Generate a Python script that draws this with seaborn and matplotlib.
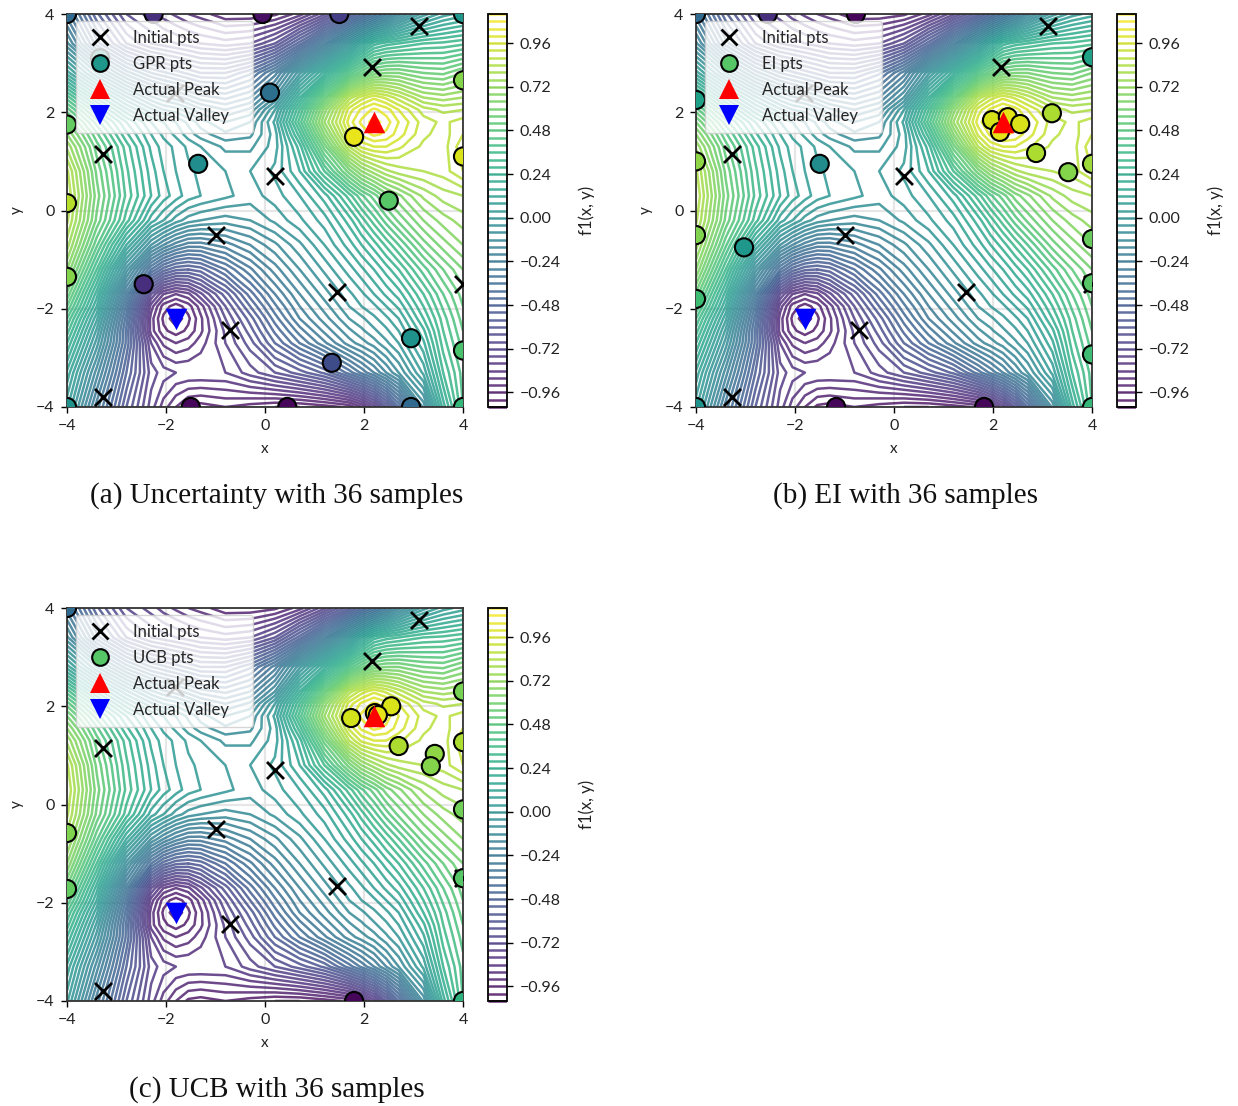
import numpy as np
import seaborn as sns
import matplotlib.pyplot as plt
from matplotlib.colors import Normalize
from matplotlib.lines import Line2D

sns.set_style("whitegrid")
plt.rcParams['font.family'] = ['Lato', 'DejaVu Sans']
plt.rcParams['axes.unicode_minus'] = True

# surface values
grid_x = [-4, -3.4, -2.8, -2.3, -2.05, -1.8, -1.55, -1.3, -0.8, -0.3, 0.2, 0.7, 1.2, 1.7, 1.95, 2.2, 2.45, 2.7, 3.2, 3.6, 4]
grid_y = [-4, -3.3, -2.7, -2.45, -2.2, -1.95, -1.7, -1.2, -0.7, -0.2, 0.3, 0.8, 1.3, 1.55, 1.8, 2.05, 2.3, 2.8, 3.4, 4]
f1_table = [
    [.05, -.30, -.60, -.78, -.86, -.92, -.97, -.98, -.96, -.98, -1.00, -1.00, -.98, -.95, -.88, -.78, -.64, -.48, -.15, .18, .40],
    [.15, -.18, -.52, -.74, -.78, -.80, -.80, -.80, -.80, -.74, -.68, -.62, -.55, -.42, -.35, -.28, -.20, -.12, .05, .28, .42],
    [.28, -.06, -.45, -.80, -.89, -.92, -.90, -.86, -.76, -.66, -.52, -.40, -.29, -.18, -.14, -.10, -.05, .00, .15, .34, .46],
    [.34, -.01, -.45, -.86, -.95, -.98, -.95, -.89, -.75, -.62, -.47, -.34, -.23, -.13, -.09, -.05, -.01, .04, .19, .36, .48],
    [.40, .05, -.42, -.86, -.97, -1.03, -.97, -.89, -.72, -.58, -.42, -.28, -.18, -.08, -.05, -.01, .03, .08, .24, .38, .50],
    [.48, .12, -.37, -.82, -.94, -.98, -.94, -.86, -.68, -.52, -.37, -.24, -.14, -.04, .00, .03, .08, .13, .28, .41, .52],
    [.55, .18, -.30, -.72, -.84, -.88, -.85, -.77, -.62, -.46, -.32, -.20, -.10, -.01, .03, .08, .13, .18, .32, .44, .54],
    [.68, .32, -.10, -.40, -.50, -.55, -.56, -.54, -.44, -.33, -.22, -.12, -.03, .06, .11, .16, .22, .28, .42, .52, .60],
    [.78, .45, .12, -.12, -.20, -.26, -.30, -.30, -.26, -.20, -.13, -.05, .04, .14, .20, .26, .33, .40, .54, .62, .68],
    [.85, .55, .30, .10, .04, -.02, -.06, -.08, -.10, -.08, -.03, .03, .10, .22, .30, .38, .46, .53, .64, .70, .74],
    [.88, .58, .35, .20, .14, .10, .06, .04, .01, -.02, .02, .08, .18, .34, .43, .50, .58, .63, .73, .78, .80],
    [.85, .55, .33, .18, .12, .08, .05, .03, .00, .00, .05, .16, .36, .58, .68, .74, .79, .82, .84, .86, .92],
    [.75, .50, .30, .15, .10, .07, .03, .00, -.05, -.05, .02, .22, .54, .84, .93, .96, .96, .93, .87, .86, .95],
    [.68, .45, .25, .12, .07, .03, -.02, -.06, -.11, -.09, .02, .30, .64, .93, 1.01, 1.05, 1.03, .98, .89, .86, .92],
    [.60, .38, .20, .08, .04, .00, -.05, -.10, -.16, -.12, .05, .38, .72, .98, 1.05, 1.10, 1.06, 1.00, .90, .87, .90],
    [.50, .28, .09, -.03, -.08, -.10, -.14, -.19, -.24, -.19, .00, .32, .66, .94, 1.01, 1.05, 1.02, .96, .86, .83, .84],
    [.38, .15, -.03, -.15, -.19, -.22, -.26, -.30, -.33, -.28, -.12, .20, .52, .82, .90, .95, .91, .86, .76, .74, .76],
    [.10, -.12, -.30, -.40, -.43, -.46, -.49, -.52, -.52, -.45, -.30, -.05, .18, .42, .51, .58, .60, .60, .56, .55, .60],
    [-.15, -.42, -.60, -.68, -.70, -.72, -.74, -.76, -.78, -.76, -.68, -.50, -.28, -.04, .10, .22, .26, .28, .32, .33, .35],
    [-.30, -.55, -.72, -.78, -.82, -.85, -.88, -.90, -.95, -.95, -.93, -.86, -.73, -.57, -.47, -.38, -.28, -.18, -.02, .06, .10],
]

init_x = [-3.28, -3.28, 0.2, -1.0, -0.7, 1.45, 2.17, 3.12, 4.0, -1.82]
init_y = [1.15, -3.8, 0.7, -0.5, -2.43, -1.65, 2.93, 3.75, -1.5, 2.39]

gpr_x = [-3.33, -4, -2.25, -0.05, 1.5, 4, 0.1, -1.35, -4, 4, 1.8, 4, 2.5, -4, -4, -2.45, 2.95, 1.35, 0.45, -1.5, 2.95, -4, 4, 4]
gpr_y = [3.1, 4, 4, 4, 4, 4, 2.4, 0.95, 1.75, 2.65, 1.5, 1.1, 0.2, 0.15, -1.35, -1.5, -2.6, -3.1, -4, -4, -4, -4, -4, -2.85]
gpr_z = [0.1, -0.3, -0.75, -0.95, -0.65, 0.1, -0.25, 0.02, 0.6, 0.72, 1.05, 1.0, 0.55, 0.88, 0.72, -0.75, 0.05, -0.55, -1.0, -1.0, -0.3, 0.05, 0.4, 0.5]

ei_x = [4, -4, -2.55, -0.77, 4, -4, -4, -1.5, 4, -4, -3.03, 4, -4, 4, -4, -1.17, 1.82, 4, 1.98, 2.14, 2.3, 2.55, 3.19, 2.87, 3.52]
ei_y = [-1.48, 4, 4, 4, 3.12, 2.25, 1.0, 0.95, 0.95, -0.5, -0.75, -0.58, -1.8, -2.93, -4, -4, -4, -4, 1.84, 1.6, 1.9, 1.76, 1.98, 1.17, 0.78]
ei_z = [0.55, -0.3, -0.75, -1.0, 0.2, 0.2, 0.75, 0.0, 0.8, 0.7, 0.1, 0.62, 0.45, 0.45, 0.05, -1.0, -1.0, 0.4, 0.98, 1.03, 1.02, 1.0, 0.85, 0.85, 0.72]

ucb_x = [4, -4, -4, -4, 4, 4, 4, 4, 1.8, 1.74, 2.55, 2.22, 2.28, 2.7, 3.43, 3.35]
ucb_y = [-1.5, 4, -0.58, -1.72, 2.3, 1.27, -0.1, -4, -4, 1.76, 2.0, 1.86, 1.82, 1.19, 1.03, 0.78]
ucb_z = [0.55, -0.3, 0.7, 0.6, 0.68, 0.85, 0.65, 0.35, -1.0, 0.97, 1.0, 1.05, 1.05, 0.85, 0.75, 0.72]

peak_x, peak_y = 2.2, 1.8
valley_x, valley_y = -1.8, -2.2

tick_vals = [-4, -2, 0, 2, 4]
cbar_ticks = [-0.96, -0.72, -0.48, -0.24, 0.0, 0.24, 0.48, 0.72, 0.96]
levels = np.arange(-1.04, 1.13, 0.04)
norm = Normalize(-1.04, 1.12)
cmap = plt.get_cmap('viridis')

W, H = 1238, 1106
fig = plt.figure(figsize=(W / 100, H / 100), dpi=100)


def pixel_axes(left, top, right, bottom):
    return fig.add_axes([left / W, 1 - bottom / H, (right - left) / W, (bottom - top) / H])


def panel(left, top, name, px, py, pz, caption, cap_x, cap_y):
    ax = pixel_axes(left, top, left + 396, top + 393)
    cs = ax.contour(grid_x, grid_y, f1_table, levels=levels, cmap='viridis', linewidths=1.8, alpha=0.8, zorder=2)
    sns.scatterplot(x=init_x, y=init_y, marker='x', s=150, color='k', linewidth=2, zorder=3, ax=ax, legend=False)
    sns.scatterplot(x=px, y=py, hue=pz, palette='viridis', hue_norm=(-1.04, 1.12), s=170,
                    edgecolor='k', linewidth=1.5, zorder=4, ax=ax, legend=False)
    sns.scatterplot(x=[peak_x], y=[peak_y], marker='^', s=240, color='r', linewidth=0, zorder=6, ax=ax, legend=False)
    sns.scatterplot(x=[valley_x], y=[valley_y], marker='v', s=240, color='b', linewidth=0, zorder=6, ax=ax, legend=False)

    ax.set_xlim(-4, 4)
    ax.set_ylim(-4, 4)
    ax.set_xticks(tick_vals)
    ax.set_yticks(tick_vals)
    ax.grid(color='#e6e6e6', linewidth=1.6)
    ax.tick_params(labelsize=11.5, length=4, width=1, color='k', left=True, bottom=True, labelcolor='#222222', pad=5)
    ax.set_xlabel('x', fontsize=11, labelpad=6, color='#222222')
    ax.set_ylabel('y', fontsize=11, labelpad=9, color='#222222')
    for s in ax.spines.values():
        s.set_color('#333333')
        s.set_linewidth(1.3)

    handles = [
        Line2D([], [], marker='x', ls='', color='k', ms=12, mew=2),
        Line2D([], [], marker='o', ls='', mfc=cmap(norm(pz[0])), mec='k', mew=1.5, ms=12),
        Line2D([], [], marker='^', ls='', color='r', ms=15, mew=0),
        Line2D([], [], marker='v', ls='', color='b', ms=15, mew=0),
    ]
    ax.legend(handles, ['Initial pts', name + ' pts', 'Actual Peak', 'Actual Valley'], fontsize=12,
              loc='upper left', bbox_to_anchor=(0.0227, 0.982, 0.447, 0.0), mode='expand', borderaxespad=0,
              frameon=True, framealpha=0.8, facecolor='white', edgecolor='#cccccc',
              labelspacing=0.6, handlelength=1.8, handletextpad=1.07, borderpad=0.55)

    cax = pixel_axes(left + 421, top, left + 440, top + 393)
    cb = fig.colorbar(cs, cax=cax)
    cb.set_ticks(cbar_ticks)
    cb.ax.tick_params(labelsize=11.5, length=4, width=1, color='k', labelcolor='#222222', right=True, pad=5)
    cb.set_label('f1(x, y)', fontsize=12, labelpad=13, color='#222222')
    cb.outline.set_edgecolor('k')
    cb.outline.set_linewidth(1.3)
    fig.text(cap_x / W, 1 - cap_y / H, caption, family='Liberation Serif', fontsize=21,
             ha='center', va='center', color='#111111')


panel(67, 14, 'GPR', gpr_x, gpr_y, gpr_z, '(a) Uncertainty with 36 samples', 277, 496)
panel(696, 14, 'EI', ei_x, ei_y, ei_z, '(b) EI with 36 samples', 906, 496)
panel(67, 608, 'UCB', ucb_x, ucb_y, ucb_z, '(c) UCB with 36 samples', 277, 1090)

fig.savefig('out.png', dpi=100)
